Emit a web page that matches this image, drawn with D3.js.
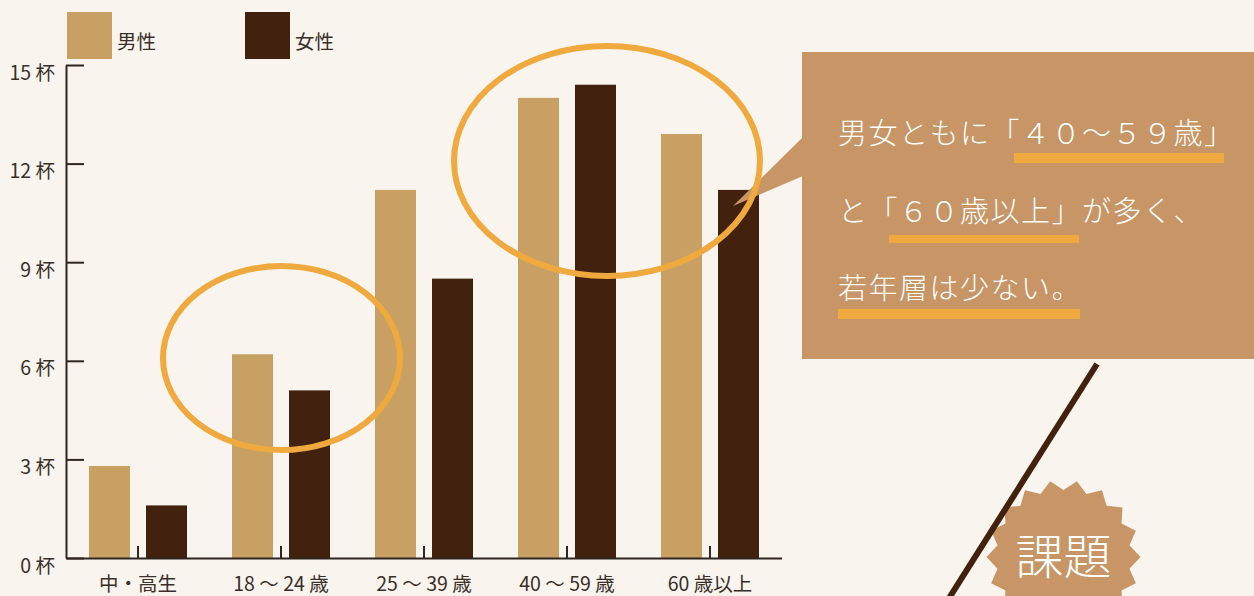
<!DOCTYPE html>
<html>
<head>
<meta charset="utf-8">
<script src="https://cdn.jsdelivr.net/npm/d3@7"></script>
<style>
  html, body { margin: 0; padding: 0; background: #f9f5ee; }
  svg { display: block; font-family: "Noto Sans CJK JP", "Noto Sans", sans-serif; }
</style>
</head>
<body>
<svg id="chart" width="1254" height="596"></svg>
<script>
// data (cups)
var categories = ["中・高生", "18 ～ 24 歳", "25 ～ 39 歳", "40 ～ 59 歳", "60 歳以上"];
var seriesNames = ["男性", "女性"];
var maleValues = [2.8, 6.2, 11.2, 14.0, 12.9];
var femaleValues = [1.6, 5.1, 8.5, 14.4, 11.2];
var yTicks = [0, 3, 6, 9, 12, 15];
var calloutLines = ["男女ともに「４０～５９歳」", "と「６０歳以上」が多く、", "若年層は少ない。"];
var badgeText = "課題";

var colors = { "男性": "#c8a064", "女性": "#42220f" };
var ink = "#2e2420";
var orange = "#f0a93e";
var boxColor = "#c89566";

var svg = d3.select("#chart");

var x = d3.scaleBand().domain(categories).range([66.5, 781.5]).padding(0);
var xSub = d3.scaleBand().domain(seriesNames).range([-49, 49]).paddingInner(16 / 57).paddingOuter(0);
var y = d3.scaleLinear().domain([0, 15]).range([558, 65]);

var rows = categories.map(function (c, i) {
    return { cat: c, values: [
        { name: "男性", v: maleValues[i] },
        { name: "女性", v: femaleValues[i] }
    ] };
});

// bars
var groups = svg.append("g").selectAll("g")
    .data(rows).enter().append("g")
    .attr("transform", function (d) { return "translate(" + (x(d.cat) + x.bandwidth() / 2) + ",0)"; });

groups.selectAll("rect")
    .data(function (d) { return d.values; })
    .enter().append("rect")
    .attr("x", function (d) { return xSub(d.name); })
    .attr("width", xSub.bandwidth())
    .attr("y", function (d) { return y(d.v); })
    .attr("height", function (d) { return y(0) - y(d.v); })
    .attr("fill", function (d) { return colors[d.name]; });

// y axis
var yAxis = svg.append("g")
    .attr("transform", "translate(66,0)")
    .call(d3.axisLeft(y).tickValues(yTicks).tickSize(-18).tickSizeOuter(0).tickPadding(11)
        .tickFormat(function (d) { return d + " 杯"; }));
yAxis.select(".domain").attr("stroke", ink).attr("stroke-width", 2);
yAxis.selectAll(".tick line").attr("stroke", ink).attr("stroke-width", 2);
yAxis.selectAll("text").attr("dy", null).attr("y", 14)
    .attr("fill", "#3a2f29").style("font-size", "19.5px").style("font-family", "Noto Sans CJK JP");

// x axis
var xAxis = svg.append("g")
    .attr("transform", "translate(0,558)")
    .call(d3.axisBottom(x).tickSize(-12).tickSizeOuter(0).tickPadding(0));
xAxis.select(".domain").attr("stroke", ink).attr("stroke-width", 2);
xAxis.selectAll(".tick line").attr("stroke", ink).attr("stroke-width", 2);
xAxis.selectAll("text").attr("dy", null).attr("y", 33)
    .attr("fill", "#3a2f29").style("font-size", "19.5px").style("font-family", "Noto Sans CJK JP");

// legend
var legend = svg.append("g").selectAll("g")
    .data(seriesNames).enter().append("g")
    .attr("transform", function (d, i) { return "translate(" + (67 + i * 178) + ",12)"; });
legend.append("rect").attr("width", 45).attr("height", 47)
    .attr("fill", function (d) { return colors[d]; });
legend.append("text").attr("x", 50).attr("y", 37)
    .attr("fill", "#3a2f29").style("font-size", "19.5px")
    .text(function (d) { return d; });

// callout box + pointer
svg.append("path")
    .attr("d", "M803,137 L733,206 L803,176 Z")
    .attr("fill", boxColor);
svg.append("rect")
    .attr("x", 802).attr("y", 52).attr("width", 470).attr("height", 307)
    .attr("fill", boxColor);

// underlines
var underlines = [
    { x: 1014, y: 153, w: 210, h: 10 },
    { x: 889, y: 235, w: 190, h: 8 },
    { x: 838, y: 309, w: 242, h: 10 }
];
svg.append("g").selectAll("rect")
    .data(underlines).enter().append("rect")
    .attr("x", function (d) { return d.x; })
    .attr("y", function (d) { return d.y; })
    .attr("width", function (d) { return d.w; })
    .attr("height", function (d) { return d.h; })
    .attr("fill", orange);

svg.append("g").selectAll("text")
    .data(calloutLines).enter().append("text")
    .attr("x", 838)
    .attr("y", function (d, i) { return [144, 222, 299][i]; })
    .attr("fill", "#ffffff")
    .style("font-size", "29px")
    .style("font-weight", "300")
    .style("letter-spacing", "1.5px")
    .text(function (d) { return d; });

// highlight ellipses
var rings = [
    { cx: 281.5, cy: 358, rx: 118.5, ry: 92 },
    { cx: 607, cy: 161, rx: 153, ry: 115 }
];
svg.append("g").selectAll("ellipse")
    .data(rings).enter().append("ellipse")
    .attr("cx", function (d) { return d.cx; })
    .attr("cy", function (d) { return d.cy; })
    .attr("rx", function (d) { return d.rx; })
    .attr("ry", function (d) { return d.ry; })
    .attr("fill", "none")
    .attr("stroke", orange)
    .attr("stroke-width", 6);

// badge
var pts = [];
for (var k = 0; k < 36; k++) {
    var a = (10 + k * 10) * Math.PI / 180;
    pts.push([a, k % 2 === 0 ? 77 : 67]);
}
svg.append("path")
    .attr("transform", "translate(1063.5,557)")
    .attr("d", d3.lineRadial().curve(d3.curveLinearClosed)(pts))
    .attr("fill", boxColor);

svg.append("line")
    .attr("x1", 1097).attr("y1", 364).attr("x2", 934).attr("y2", 622)
    .attr("stroke", "#42220f").attr("stroke-width", 6);

svg.append("text")
    .attr("x", 1063.5).attr("y", 574)
    .attr("text-anchor", "middle")
    .attr("fill", "#ffffff")
    .style("font-size", "48px")
    .style("font-weight", "300")
    .text(badgeText);
</script>
</body>
</html>
